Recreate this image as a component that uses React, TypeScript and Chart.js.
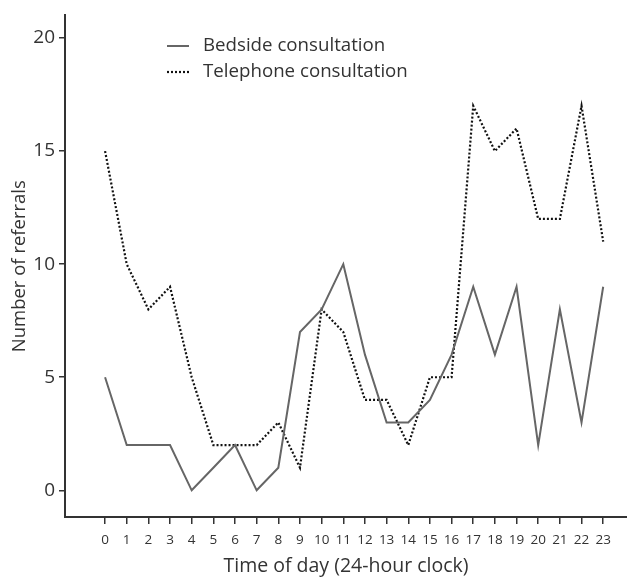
import React, { useEffect, useRef } from "react";
import { Chart, registerables } from "chart.js";

Chart.register(...registerables);

const hours = [0, 1, 2, 3, 4, 5, 6, 7, 8, 9, 10, 11, 12, 13, 14, 15, 16, 17, 18, 19, 20, 21, 22, 23];
const bedside = [5, 2, 2, 2, 0, 1, 2, 0, 1, 7, 8, 10, 6, 3, 3, 4, 6, 9, 6, 9, 2, 8, 3, 9];
const telephone = [15, 10, 8, 9, 5, 2, 2, 2, 3, 1, 8, 7, 4, 4, 2, 5, 5, 17, 15, 16, 12, 12, 17, 11];
const yTicks = [0, 5, 10, 15, 20];
const seriesLabels = ["Bedside consultation", "Telephone consultation"];

const FONT = "'Open Sans', 'DejaVu Sans', sans-serif";
const AXIS = "#333333";

const legendPlugin = {
  id: "innerLegend",
  afterDraw(chart: any) {
    const ctx = chart.ctx;
    const x0 = chart.chartArea.left + 102;
    const rows = [
      { y: 46, dash: [] as number[], color: "#666666", w: 2 },
      { y: 72, dash: [2, 2], color: "#111111", w: 2.2 },
    ];
    ctx.save();
    rows.forEach((r, i) => {
      ctx.beginPath();
      ctx.setLineDash(r.dash);
      ctx.strokeStyle = r.color;
      ctx.lineWidth = r.w;
      ctx.moveTo(x0, r.y);
      ctx.lineTo(x0 + 22, r.y);
      ctx.stroke();
      ctx.setLineDash([]);
      ctx.fillStyle = AXIS;
      ctx.font = `18.7px ${FONT}`;
      ctx.textBaseline = "middle";
      ctx.textAlign = "left";
      ctx.fillText(seriesLabels[i], x0 + 36, r.y);
    });
    ctx.restore();
  },
};

export default function App() {
  const ref = useRef<HTMLCanvasElement>(null);
  useEffect(() => {
    if (!ref.current) return;
    const chart = new Chart(ref.current, {
      type: "line",
      data: {
        datasets: [
          {
            label: seriesLabels[0],
            data: hours.map((h, i) => ({ x: h, y: bedside[i] })),
            borderColor: "#666666",
            borderWidth: 2,
            pointRadius: 0,
            tension: 0,
            fill: false,
          },
          {
            label: seriesLabels[1],
            data: hours.map((h, i) => ({ x: h, y: telephone[i] })),
            borderColor: "#111111",
            borderWidth: 2.2,
            borderDash: [2, 2],
            pointRadius: 0,
            tension: 0,
            fill: false,
          },
        ],
      },
      plugins: [legendPlugin],
      options: {
        responsive: false,
        animation: false,
        layout: { padding: { top: 10, right: 0, left: 0, bottom: 0 } },
        plugins: { legend: { display: false }, tooltip: { enabled: false } },
        scales: {
          x: {
            type: "linear",
            min: -1.85,
            max: 24.1,
            afterBuildTicks: (s: any) => {
              s.ticks = hours.map((v) => ({ value: v }));
            },
            afterFit: (s: any) => {
              s.height = 61;
            },
            grid: { drawOnChartArea: false, drawTicks: true, tickLength: 7, color: AXIS, lineWidth: 1.5 },
            border: { display: true, color: AXIS, width: 2 },
            ticks: {
              autoSkip: false,
              maxRotation: 0,
              padding: 8,
              color: AXIS,
              font: { family: FONT, size: 13.5 },
              callback: (v: any) => String(v),
            },
            title: {
              display: true,
              text: "Time of day (24-hour clock)",
              color: AXIS,
              font: { family: FONT, size: 19.5 },
              padding: { top: 0, bottom: 0 },
            },
          },
          y: {
            type: "linear",
            min: -1.18,
            max: 21,
            afterBuildTicks: (s: any) => {
              s.ticks = yTicks.map((v) => ({ value: v }));
            },
            afterFit: (s: any) => {
              s.width = 65;
            },
            grid: { drawOnChartArea: false, drawTicks: true, tickLength: 6, color: AXIS, lineWidth: 1.5 },
            border: { display: true, color: AXIS, width: 2 },
            ticks: {
              padding: 4,
              color: AXIS,
              font: { family: FONT, size: 19 },
              callback: (v: any) => String(v),
            },
            title: {
              display: true,
              text: "Number of referrals",
              color: AXIS,
              font: { family: FONT, size: 18.5 },
              padding: { top: 9, bottom: 0 },
            },
          },
        },
      },
    } as any);
    return () => chart.destroy();
  }, []);
  return (
    <div style={{ position: "fixed", left: 0, top: 0, width: 627, height: 578, background: "#fff" }}>
      <canvas ref={ref} width={627} height={578} />
    </div>
  );
}
